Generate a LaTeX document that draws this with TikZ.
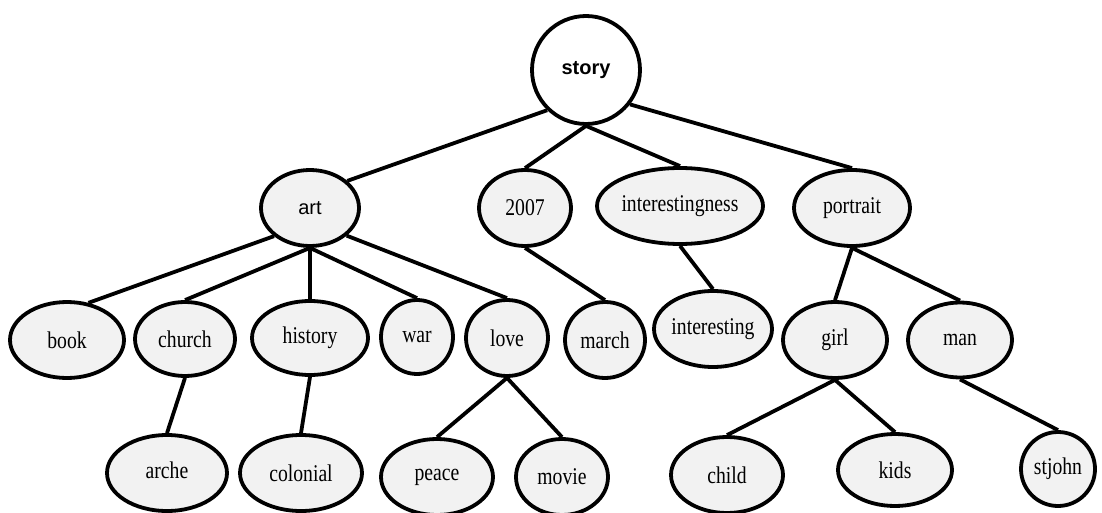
\documentclass[tikz,border=0pt]{standalone}
\usepackage{fontspec}
\setmainfont[FakeStretch=0.82]{Liberation Serif}
\newfontfamily\arialfont{Liberation Sans}
\usetikzlibrary{shapes.geometric}
\definecolor{termfill}{HTML}{F2F2F2}
\begin{document}
\begin{tikzpicture}[x=1pt,y=-1pt,
  term/.style 2 args={draw, ellipse, fill=termfill, line width=3.8pt, inner sep=0pt,
    minimum width=#1, minimum height=#2, font=\fontsize{24}{24}\selectfont},
  root/.style={draw, circle, fill=white, line width=3.8pt, inner sep=0pt,
    minimum size=108pt, font=\arialfont\bfseries\fontsize{20}{20}\selectfont},
  link/.style={line width=3.8pt}]
\useasboundingbox (0,0) rectangle (1102,513);

% root
\node[root] (story) at (586,70) {story};

% second level
\node[term={98}{76}, font=\arialfont\fontsize{20}{20}\selectfont] (art) at (310,208) {art};
\node[term={92}{76}] (y2007) at (525,208) {2007};
\node[term={166}{76}] (interestingness) at (680,206) {\raisebox{4pt}{interestingness}};
\node[term={116}{76}] (portrait) at (852,208) {portrait};

% third level
\node[term={114}{76}] (book) at (67,340) {book};
\node[term={100}{74}] (church) at (185,339) {church};
\node[term={116}{74}] (history) at (310,338) {history};
\node[term={72}{74}] (war) at (417,337) {war};
\node[term={82}{76}] (love) at (507,338) {love};
\node[term={80}{76}] (march) at (605,340) {march};
\node[term={118}{76}] (interesting) at (713,329) {\raisebox{4pt}{interesting}};
\node[term={104}{76}] (girl) at (835,340) {girl};
\node[term={104}{75}] (man) at (960,340) {man};

% fourth level
\node[term={120}{76}] (arche) at (167,473) {\raisebox{5pt}{arche}};
\node[term={122}{76}] (colonial) at (301,473) {colonial};
\node[term={112}{76}] (peace) at (437,477) {peace};
\node[term={92}{76}] (movie) at (562,477) {movie};
\node[term={112}{76}] (child) at (727,475) {child};
\node[term={114}{72}] (kids) at (895,470) {\raisebox{-3pt}{kids}};
\node[term={74}{74}] (stjohn) at (1058,469) {stjohn};

% connectors
\draw[link] (story.226) -- (art.36);
\draw[link] (story.south) -- (y2007.north);
\draw[link] (story.south) -- (interestingness.north);
\draw[link] (story.322) -- (portrait.north);

\draw[link] (art.218) -- (book.60);
\draw[link] (art.south) -- (church.north);
\draw[link] (art.south) -- (history.north);
\draw[link] (art.south) -- (war.north);
\draw[link] (art.323) -- (love.north);

\draw[link] (y2007.south) -- (march.north);
\draw[link] (interestingness.south) -- (interesting.north);
\draw[link] (portrait.south) -- (girl.north);
\draw[link] (portrait.south) -- (man.north);

\draw[link] (church.south) -- (arche.north);
\draw[link] (history.south) -- (colonial.north);
\draw[link] (love.south) -- (peace.north);
\draw[link] (love.south) -- (movie.north);
\draw[link] (girl.south) -- (child.north);
\draw[link] (girl.south) -- (kids.north);
\draw[link] (man.south) -- (stjohn.north);
\end{tikzpicture}
\end{document}
